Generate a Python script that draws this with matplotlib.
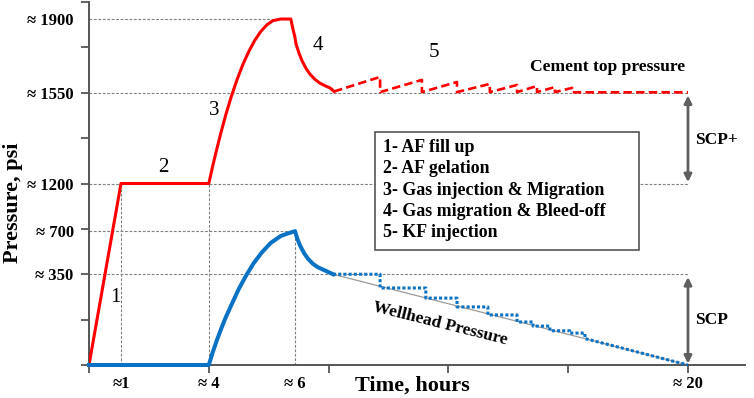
import numpy as np
import matplotlib
matplotlib.use("Agg")
import matplotlib.pyplot as plt
from matplotlib.patches import Rectangle

plt.rcParams['font.family'] = ['Liberation Serif', 'DejaVu Serif']

# schematic axes: time and pressure are not linear, so map them piecewise
t_nodes = [0, 1, 4, 6, 20, 23]
t_pos = [0, 0.267, 1, 1.72, 5, 5.703]
p_nodes = [0, 350, 700, 1200, 1550, 1900, 2100]
p_pos = [0, 2, 2.95, 4, 6, 7.625, 8.55]

# cement top pressure (red), phases 1-4
red_t = [0, 1, 4, 4.093, 4.186, 4.278, 4.394, 4.510, 4.649, 4.788, 4.928, 5.067,
         5.206, 5.345, 5.484, 5.67, 5.902,
         5.948, 5.995, 6.036, 6.143, 6.249, 6.392, 6.534, 6.713, 6.891, 7.105,
         7.247, 7.39]
red_p = [0, 1200, 1200, 1269, 1333, 1394, 1465, 1529, 1609, 1683, 1746, 1799,
         1841, 1872, 1892, 1900, 1900,
         1855, 1816, 1781, 1737, 1702, 1665, 1638, 1613, 1595, 1581,
         1573, 1556]
# phase 5, KF injection (red dashed)
kf_t = [7.39, 9.03, 9.03, 10.52, 10.52, 11.77, 11.77, 12.94, 12.94, 13.91, 13.91,
        14.62, 14.62, 15.26, 15.26, 15.87, 15.87, 20]
kf_p = [1556, 1625, 1553, 1611, 1553, 1601, 1553, 1592, 1553, 1587, 1553,
        1582, 1553, 1577, 1553, 1573, 1552, 1552]

# wellhead pressure (blue)
wh_t = [0, 4, 4.093, 4.186, 4.278, 4.394, 4.533, 4.695, 4.858, 5.043, 5.229,
        5.438, 5.67, 5.855, 6.0,
        6.071, 6.178, 6.321, 6.463, 6.641, 6.82, 7.034, 7.354]
wh_p = [0, 0, 50, 95, 136, 184, 235, 293, 343, 441, 527,
        605, 661, 684, 700,
        644, 583, 522, 475, 434, 406, 384, 350]
wh_step_t = [7.354, 9.03, 9.03, 10.66, 10.66, 11.77, 11.77, 12.87, 12.87, 13.91, 13.91,
             14.48, 14.48, 15.08, 15.08, 15.79, 15.79, 16.33, 16.33, 20]
wh_step_p = [350, 350, 297, 297, 258, 258, 224, 224, 193, 193, 166,
             166, 150, 150, 132, 132, 123, 123, 102, 0]
trend_t = [7.354, 20]
trend_p = [350, 0]

y_ticks = [350, 700, 1200, 1550, 1900]
y_labels = ["≈ 350", "≈ 700", "≈ 1200", "≈ 1550", "≈ 1900"]
x_ticks = [1, 4, 6, 20]
x_labels = ["≈1", "≈ 4", "≈ 6", "≈ 20"]

legend_lines = ["1- AF fill up", "2- AF gelation", "3- Gas injection & Migration",
                "4- Gas migration & Bleed-off", "5- KF injection"]


def t_fwd(x):
    return np.interp(x, t_nodes, t_pos)


def t_inv(x):
    return np.interp(x, t_pos, t_nodes)


def p_fwd(y):
    return np.interp(y, p_nodes, p_pos)


def p_inv(y):
    return np.interp(y, p_pos, p_nodes)


fig = plt.figure(figsize=(7.54, 3.98), dpi=100)
ax = fig.add_axes([89 / 754, 33 / 398, 656 / 754, 363 / 398])
ax.set_xscale('function', functions=(t_fwd, t_inv))
ax.set_yscale('function', functions=(p_fwd, p_inv))
ax.set_xlim(0, float(t_inv(5.476)))
ax.set_ylim(0, float(p_inv(8)))

grid = dict(color='#808080', lw=0.8, ls=(0, (2.5, 1.5)), zorder=1)
ax.plot([0, 5.88], [1900, 1900], **grid)
ax.plot([0, 20], [1550, 1550], **grid)
ax.plot([0, 20], [1200, 1200], **grid)
ax.plot([0, 6], [700, 700], **grid)
ax.plot([0, 20], [350, 350], **grid)
ax.plot([1, 1], [0, 1200], **grid)
ax.plot([4, 4], [0, 1200], **grid)
ax.plot([6, 6], [0, 700], **grid)

ax.plot(trend_t, trend_p, color='#9a9a9a', lw=0.9, zorder=2)

ax.plot(red_t, red_p, color='#ff0000', lw=2.2, zorder=4, solid_joinstyle='round')
ax.plot(kf_t, kf_p, color='#ff0000', lw=1.9, dashes=(3.2, 1.6), zorder=4)
ax.plot(wh_t, wh_p, color='#0a72c4', lw=2.9, zorder=4, clip_on=False,
        solid_joinstyle='round')
ax.plot(wh_step_t, wh_step_p, color='#0a72c4', lw=2.2, ls=(0, (1, 0.7)), zorder=4,
        clip_on=False)

arrow = dict(arrowstyle='<|-|>', color='#5f5f5f', lw=2, mutation_scale=11,
             shrinkA=2, shrinkB=1)
ax.annotate('', xy=(20, 1200), xytext=(20, 1550), arrowprops=arrow)
ax.annotate('', xy=(20, 0), xytext=(20, 350), arrowprops=arrow)

ax.text(0.924, 0.620, "SCP+", transform=ax.transAxes, fontsize=12.5, fontweight='bold',
        va='center', ha='left')
ax.text(0.924, 0.124, "SCP", transform=ax.transAxes, fontsize=12.5, fontweight='bold',
        va='center', ha='left')

for s, fx, fy in [("1", 0.0396, 0.187), ("2", 0.113, 0.545), ("3", 0.191, 0.702),
                  ("4", 0.349, 0.879), ("5", 0.526, 0.860)]:
    ax.text(fx, fy, s, transform=ax.transAxes, fontsize=15, ha='center', va='center')

ax.text(0.791, 0.821, "Cement top pressure", transform=ax.transAxes, fontsize=12.6,
        fontweight='bold', ha='center', va='center')
ax.text(0.535, 0.113, "Wellhead Pressure", transform=ax.transAxes, fontsize=12.5,
        fontweight='bold', ha='center', va='center', rotation=-14)

ax.add_patch(Rectangle((0.436, 0.317), 0.402, 0.325, transform=ax.transAxes,
                       facecolor='white', edgecolor='#555555', lw=1.2, zorder=5))
ax.text(0.448, 0.482, "\n".join(legend_lines), transform=ax.transAxes, fontsize=12.9,
        fontweight='bold', ha='left', va='center', linespacing=1.32, zorder=6)

for side in ['top', 'right']:
    ax.spines[side].set_visible(False)
for side in ['left', 'bottom']:
    ax.spines[side].set_color('#555555')
    ax.spines[side].set_linewidth(1.4)

ax.xaxis.remove_overlapping_locs = False
ax.yaxis.remove_overlapping_locs = False
ax.set_yticks(y_ticks)
ax.set_yticklabels(y_labels)
ax.set_yticks(p_inv(np.arange(9)), minor=True)
ax.set_xticks(x_ticks)
ax.set_xticklabels(x_labels)
ax.set_xticks(t_inv(np.arange(6)), minor=True)
ax.tick_params(axis='y', which='major', length=0, pad=11, labelsize=12)
ax.tick_params(axis='x', which='major', length=0, pad=8, labelsize=12)
ax.tick_params(which='minor', length=6, width=1.3, color='#555555')
for lab in ax.get_xticklabels() + ax.get_yticklabels():
    lab.set_fontweight('bold')

fig.text(13 / 754, 1 - 203 / 398, "Pressure, psi", rotation=90, fontsize=16,
         fontweight='bold', ha='center', va='center')
fig.text(412 / 754, 1 - 386 / 398, "Time, hours", fontsize=16, fontweight='bold',
         ha='center', va='center')

fig.savefig("out.png", dpi=100)
